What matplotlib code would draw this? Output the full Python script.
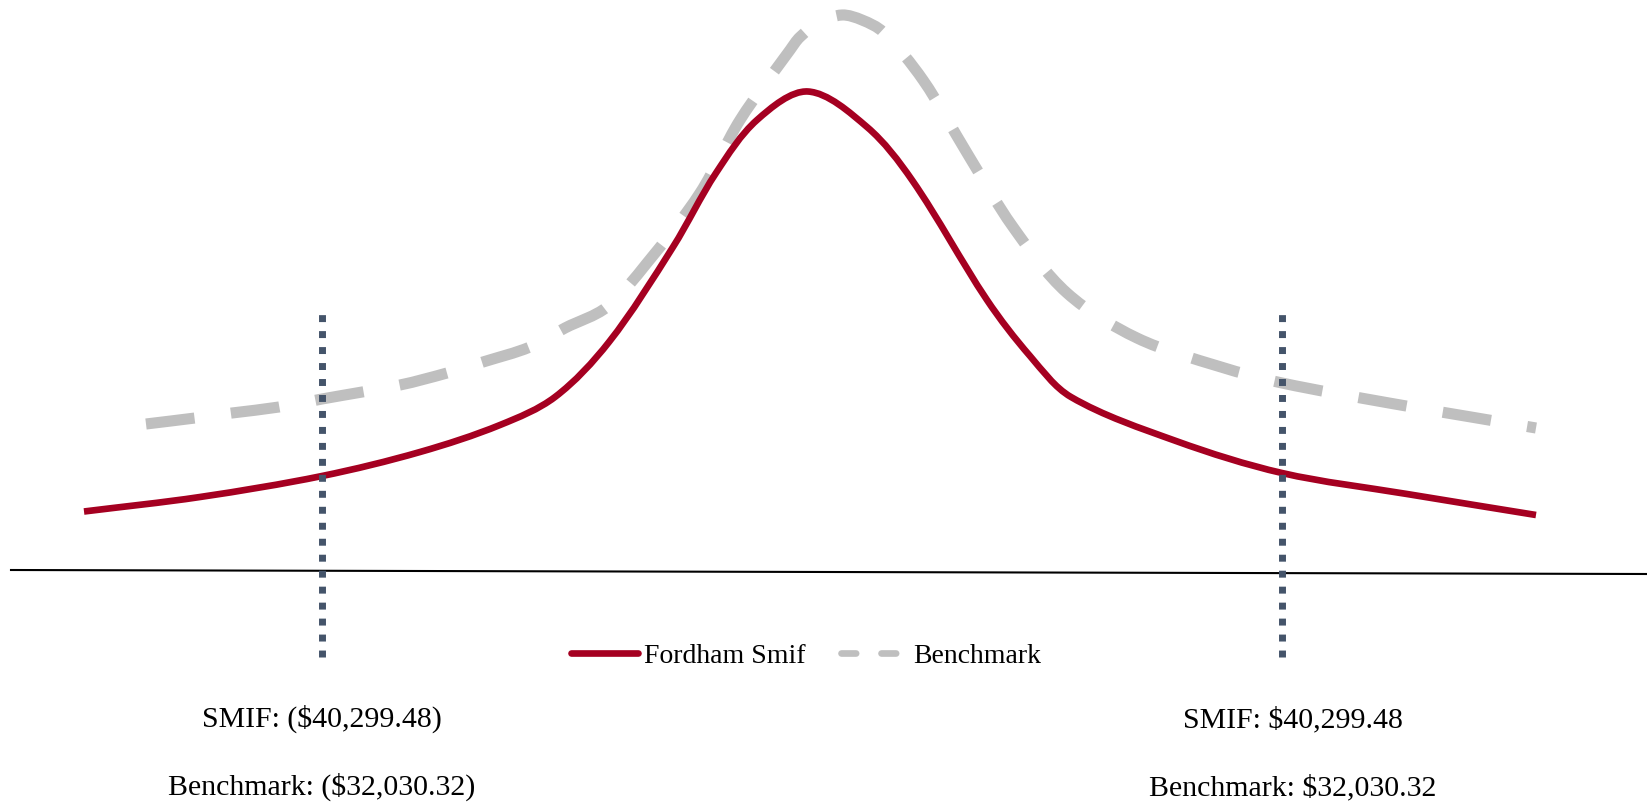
import matplotlib
matplotlib.use("Agg")
import numpy as np
import matplotlib.pyplot as plt
from matplotlib.lines import Line2D
from matplotlib.path import Path
from matplotlib.patches import PathPatch

plt.rcParams['font.family'] = ['Liberation Serif', 'DejaVu Serif']

# ---- data ----
smif_x = [-7.28, -6.12, -4.90, -3.92, -3.12, -2.57, -2.03, -1.39, -0.96,
          -0.55, -0.04, 0.55, 1.00, 1.75, 2.18, 2.59,
          3.64, 4.70, 5.95, 7.24]
smif_y = [0.595, 0.74, 0.95, 1.19, 1.46, 1.74, 2.29, 3.24, 3.98,
          4.51, 4.795, 4.44, 3.91, 2.71, 2.15, 1.74,
          1.30, 0.98, 0.77, 0.56]

bench_x = [-6.66, -6.17, -5.80, -5.33, -4.90, -4.12, -3.65, -3.29, -2.82, -2.47,
           -2.05, -1.65, -1.12, -0.72, -0.22, -0.12, 0.08, 0.30, 0.50, 0.71,
           1.11, 1.55, 2.01, 2.55, 3.25, 4.09, 4.70, 5.77, 6.59, 7.24]
bench_y = [1.47, 1.53, 1.58, 1.64, 1.72, 1.86, 1.98, 2.09, 2.24, 2.43,
           2.64, 3.08, 3.78, 4.51, 5.21, 5.34, 5.49, 5.56, 5.51, 5.39,
           4.91, 4.18, 3.44, 2.78, 2.33, 2.04, 1.88, 1.68, 1.54, 1.43]

marker_x = [-4.90, 4.70]          # vertical reference lines
marker_span = (-0.86, 2.58)

axis_x = [-8.01, 8.35]
axis_y = [0.01, -0.03]

series_labels = ["Fordham Smif", "Benchmark"]
left_labels = ["SMIF: ($40,299.48)", "Benchmark: ($32,030.32)"]
right_labels = ["SMIF: $40,299.48", "Benchmark: $32,030.32"]

RED = "#A50021"
GREY = "#BFBFBF"
SLATE = "#44546A"


def smooth_path(xs, ys, ax):
    """Smoothed line through the data points (chord-length Catmull-Rom
    drawn as cubic Bezier segments), computed in display space."""
    p = ax.transData.transform(np.column_stack([xs, ys]))
    n = len(p)
    seg = np.hypot(*np.diff(p, axis=0).T)
    t = np.concatenate([[0.0], np.cumsum(seg)])
    m = np.zeros_like(p)
    m[0] = (p[1] - p[0]) / seg[0]
    m[-1] = (p[-1] - p[-2]) / seg[-1]
    for i in range(1, n - 1):
        m[i] = (p[i + 1] - p[i - 1]) / (t[i + 1] - t[i - 1])
    verts = [tuple(p[0])]
    codes = [Path.MOVETO]
    for i in range(n - 1):
        dt = seg[i]
        verts += [tuple(p[i] + m[i] * dt / 3),
                  tuple(p[i + 1] - m[i + 1] * dt / 3),
                  tuple(p[i + 1])]
        codes += [Path.CURVE4] * 3
    return Path(verts, codes)


fig = plt.figure(figsize=(16.47, 8.06), dpi=100)
ax = fig.add_axes([0, 0, 1, 1])
ax.set_xlim(-8.12, 8.35)
ax.set_ylim(-2.35, 5.71)
ax.axis('off')

ax.plot(axis_x, axis_y, color='black', lw=1.5, zorder=1)

bench_patch = PathPatch(smooth_path(bench_x, bench_y, ax), transform=None,
                        facecolor='none', edgecolor=GREY, lw=8,
                        linestyle=(0, (4.4, 3.3)), capstyle='butt',
                        joinstyle='round', zorder=2)
ax.add_artist(bench_patch)
smif_patch = PathPatch(smooth_path(smif_x, smif_y, ax), transform=None,
                       facecolor='none', edgecolor=RED, lw=4.8,
                       capstyle='butt', joinstyle='round', zorder=3)
ax.add_artist(smif_patch)

for mx in marker_x:
    ax.plot([mx, mx], list(marker_span), color=SLATE, lw=5,
            dashes=(1, 1.3), dash_capstyle='butt', zorder=4)

handles = [Line2D([], [], color=RED, lw=4.8, solid_capstyle='round'),
           Line2D([], [], color=GREY, lw=4.8, dashes=(2.2, 3.8),
                  dash_capstyle='round')]
ax.legend(handles, series_labels, loc='center',
          bbox_to_anchor=(0.4897, 0.1861), ncol=2, frameon=False,
          fontsize=20, handlelength=2.4, handletextpad=0.2,
          columnspacing=1.3)

text_x = [-4.90, 4.81]
text_y = [-1.56, -2.24]
for tx, labels in zip(text_x, [left_labels, right_labels]):
    for ty, lab in zip(text_y, labels):
        ax.text(tx, ty, lab, ha='center', va='baseline', fontsize=21.5,
                color='black')

fig.savefig("out.png", dpi=100)
